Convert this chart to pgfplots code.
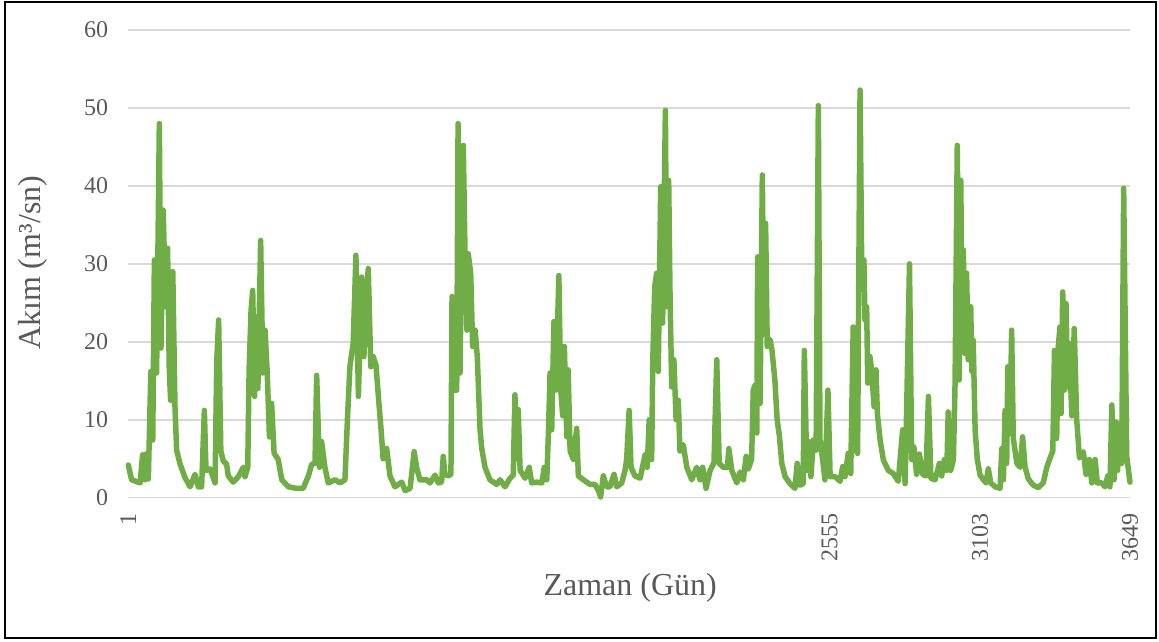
\documentclass[border=0pt]{standalone}
\usepackage{fontspec}
\setmainfont{Liberation Serif}
\usepackage{pgfplots}
\pgfplotsset{compat=1.18}
\definecolor{excelgreen}{HTML}{70AD47}
\definecolor{txtgray}{HTML}{595959}
\definecolor{gridgray}{HTML}{D9D9D9}
\begin{document}
\begin{tikzpicture}[x=1pt,y=1pt]
\useasboundingbox (0,0) rectangle (1159,641);
\draw[line width=2pt, black] (5,3) rectangle (1156,639);
\begin{axis}[
  at={(128.3pt,143.3pt)}, anchor=south west,
  scale only axis, width=1001.7pt, height=467.7pt,
  xmin=1, xmax=3649, ymin=0, ymax=60,
  xtick={1,2555,3103,3649},
  ytick={0,10,20,30,40,50,60},
  axis line style={draw=none},
  major tick length=0pt,
  ymajorgrids, grid style={color=gridgray, line width=1.5pt},
  /pgf/number format/assume math mode=true,
  /pgf/number format/.cd, use comma=false, 1000 sep={},
  /pgfplots/.cd,
  ticklabel style={font=\fontsize{24}{24}\selectfont, text=txtgray, inner sep=0pt},
  yticklabel shift=20pt,
  xticklabel shift=16pt,
  xticklabel style={rotate=90, anchor=east},
  xlabel={Zaman (Gün)},
  ylabel={Akım (m³/sn)},
  label style={font=\fontsize{32}{32}\selectfont, text=txtgray},
  xlabel style={at={(axis description cs:0.501,-0.193)}, anchor=center},
  ylabel style={at={(axis description cs:-0.0951,0.502)}, anchor=center},
  clip=false,
]
\addplot[color=excelgreen, line width=5.5pt, line join=round, line cap=round, no markers] coordinates {
(1,4.2)(13,2.3)(44,1.9)(53,5.5)(62,2.3)(65,5.6)(74,2.4)(83,16.2)(90,7.4)(96,30.5)
(104,16)(114,48)(120,19.2)(128,36.9)(137,24.5)(144,32)(150,16.8)(155,12.5)(163,29)(171,11.7)
(177,6.1)(189,4.4)(207,2.6)(226,1.4)(244,3.0)(256,1.4)(268,1.4)(278,11.2)(284,3.5)(299,3.7)
(317,1.9)(323,17.4)(330,22.8)(338,6.0)(347,4.7)(359,4.3)(365,2.8)(383,2.0)(402,2.7)(420,3.9)
(426,2.7)(436,3.9)(441,16.4)(448,24)(454,26.6)(461,13)(469,23.2)(473,14)(483,33)(491,16)
(499,21.5)(507,16)(515,7.8)(523,12.1)(532,5.7)(547,4.9)(560,2.3)(584,1.4)(614,1.2)(638,1.2)
(657,2.8)(669,4.3)(681,4.4)(687,15.7)(697,3.9)(705,7.2)(717,3.9)(729,1.9)(754,2.3)(772,1.9)
(790,2.3)(799,10)(808,16.8)(820,19.8)(830,31.1)(839,13)(851,28.3)(859,18.1)(867,25.3)(875,29.4)
(884,16.8)(893,18.1)(903,17)(914,12)(921,9)(929,5)(942,6.3)(954,2.8)(972,1.4)(997,2)
(1009,0.9)(1027,1.2)(1033,3)(1042,5.9)(1051,3.9)(1063,2.3)(1088,2.3)(1100,1.9)(1118,2.9)(1130,1.9)
(1142,2)(1148,5.3)(1154,3)(1166,2.8)(1176,3)(1180,25.8)(1187,13.8)(1197,13.8)(1202,48)(1209,16)
(1213,27)(1221,45.2)(1227,31.8)(1234,21.5)(1239,31.3)(1248,28.8)(1255,19.4)(1264,21.5)(1272,18.1)(1282,8.7)
(1288,6.4)(1300,3.9)(1318,2.3)(1343,1.7)(1355,2.3)(1373,1.4)(1391,2.5)(1403,2.9)(1409,13.2)(1417,5)
(1421,11.3)(1428,3.5)(1446,2.5)(1461,3.9)(1470,1.9)(1488,2)(1507,1.9)(1516,3.9)(1525,2.3)(1531,8.3)
(1537,16)(1543,8.7)(1551,22.6)(1558,13.8)(1569,28.5)(1576,13.8)(1583,10.5)(1589,19.4)(1598,7.8)(1603,16.4)
(1610,6)(1622,4.9)(1634,8.9)(1640,2.8)(1658,2.3)(1683,1.7)(1701,1.7)(1713,0.9)(1721,0.1)(1731,2.8)
(1743,1.4)(1755,1.4)(1770,3)(1780,1.4)(1798,1.9)(1810,3.5)(1816,4.9)(1825,11.2)(1832,3.9)(1846,2.8)
(1865,2.5)(1883,5.5)(1891,3.9)(1898,10)(1907,4.9)(1911,17.4)(1918,27)(1925,28.8)(1931,16.2)(1940,39.9)
(1947,22.4)(1957,49.7)(1962,24.5)(1969,40.7)(1974,25.8)(1980,14.2)(1988,17.7)(1996,10)(2004,12.5)(2010,6)
(2022,6.8)(2035,3.9)(2053,2.3)(2071,3.9)(2083,2.3)(2093,3.9)(2105,1.2)(2120,3.5)(2134,4.5)(2144,17.7)
(2153,4.4)(2168,3.9)(2183,3.9)(2188,6.3)(2199,3.5)(2217,1.9)(2229,3.3)(2241,2.3)(2251,5.3)(2259,3.7)
(2271,4.9)(2277,13.8)(2283,14.4)(2290,8.3)(2293,30.9)(2302,12.1)(2310,41.4)(2316,21)(2322,35.2)(2328,19.4)
(2338,20.3)(2345,19)(2356,15)(2364,10)(2372,8)(2381,4.4)(2393,2.7)(2411,1.8)(2429,1.2)(2437,4.4)
(2447,1.6)(2459,1.8)(2463,18.9)(2472,3.5)(2478,7.2)(2487,2.7)(2496,7.4)(2506,6.1)(2514,50.3)(2520,7.4)
(2530,4.8)(2538,2.3)(2549,13.8)(2557,2.7)(2575,2.7)(2593,2.1)(2603,4)(2611,2.7)(2623,5.7)(2632,3.1)
(2641,21.9)(2651,6.1)(2657,5.7)(2666,52.3)(2672,29.6)(2680,30.5)(2684,22.8)(2690,24.5)(2694,14.7)(2702,18.1)
(2708,16.4)(2717,11.7)(2724,16.4)(2729,10.8)(2739,7.4)(2751,4.8)(2769,3.5)(2787,3.1)(2805,2.1)(2821,8.7)
(2830,1.8)(2836,11.9)(2846,30)(2854,4.9)(2862,6.5)(2872,3)(2882,5.6)(2894,3)(2906,2.8)(2915,13)
(2924,2.5)(2939,2.3)(2955,4.4)(2963,2.8)(2973,4.9)(2982,3.5)(2987,11)(2996,3.5)(3006,4.9)(3012,14.7)
(3020,45.2)(3027,15.1)(3033,40.7)(3037,18.9)(3042,31.8)(3048,18.5)(3054,28.8)(3060,17.7)(3069,24.5)(3073,16.2)
(3078,20.2)(3085,8.7)(3093,4.9)(3103,2.9)(3115,2.3)(3125,1.9)(3133,3.7)(3142,1.9)(3158,1.4)(3176,1.2)
(3182,6.3)(3188,2.3)(3194,11.2)(3200,4.4)(3204,16.8)(3212,8.3)(3218,21.5)(3224,7.6)(3237,4.4)(3249,3.9)
(3258,7.8)(3267,3.9)(3279,2.4)(3297,1.6)(3315,1.3)(3333,1.9)(3346,3.9)(3358,5.1)(3368,6)(3374,18.9)
(3382,7.6)(3388,19.4)(3394,21.9)(3398,10.8)(3404,26.4)(3410,13.8)(3416,24.9)(3422,14.2)(3428,19.8)(3437,10.5)
(3446,21.7)(3455,10)(3465,5.1)(3479,5.9)(3489,3)(3501,4.9)(3510,1.9)(3522,4.9)(3530,1.9)(3546,1.9)
(3558,1.4)(3568,2.8)(3576,1.4)(3583,11.9)(3591,2.3)(3598,9.7)(3604,3.5)(3610,9.5)(3619,4.4)(3626,39.7)
(3637,5.3)(3649,2)
};
\end{axis}
\end{tikzpicture}
\end{document}
